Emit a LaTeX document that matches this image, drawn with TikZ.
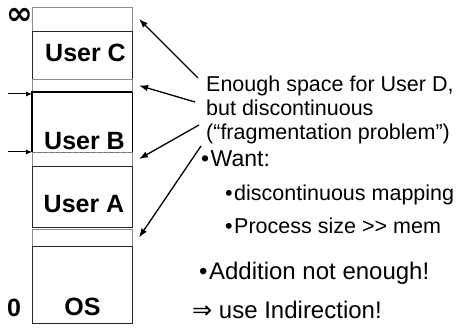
\documentclass[tikz,border=0pt]{standalone}
\usepackage{fontspec}
\setmainfont{Liberation Sans}
\newfontfamily\symfont{DejaVu Sans}
\usetikzlibrary{arrows.meta,positioning}
\newcommand{\dotitem}{\textbullet\kern1.5pt}
\tikzset{
  slot/.style={
    draw=black!45,
    line width=0.8pt,
    minimum width=100pt,
    inner sep=0pt,
    outer sep=0pt
  },
  proc/.style={
    draw=black!85,
    line width=0.9pt,
    minimum width=100pt,
    inner sep=0pt,
    outer sep=0pt
  },
  tag/.style={font=\fontsize{25}{25}\selectfont\bfseries, inner sep=0pt},
  bigsym/.style={font=\fontsize{32}{32}\selectfont\symfont\bfseries, inner sep=0pt},
  note/.style={anchor=base west, inner sep=0pt, font=\fontsize{21.5}{24}\selectfont},
  pointer/.style={-{Latex[length=9pt,width=6.5pt]}, line width=1.3pt},
  baseptr/.style={-{Latex[length=6pt,width=5pt]}, line width=1pt}
}

\begin{document}
\begin{tikzpicture}[x=1pt, y=-1pt, node distance=0pt]
\useasboundingbox (0,0) rectangle (461,328);

% memory, from the top address down to 0
\node[slot, minimum height=24pt] (top) at (82,19) {};
\node[proc, minimum height=48pt, below=of top] (userC) {};
\node[slot, minimum height=13pt, below=of userC] (holeCB) {};
\node[proc, draw=none, minimum height=60pt, below=of holeCB] (userB) {};
\node[slot, minimum height=14pt, below=of userB] (holeBA) {};
\node[proc, minimum height=61pt, below=of holeBA] (userA) {};
\node[slot, minimum height=17pt, below=2pt of userA] (holeAO) {};
\node[proc, minimum height=77pt, below=of holeAO] (os) {};

% User B: base and bound
\draw[line width=1.6pt] (userB.south west) -- (userB.north west) -- (userB.north east);
\draw[line width=0.9pt] (userB.north east) -- (userB.south east);
\draw[black!55, line width=0.8pt, dashed] (userB.south west) -- (userB.south east);

\node[tag] (labC) at ([xshift=3.5pt,yshift=2pt]userC.center) {User C};
\node[tag] (labB) at ([xshift=2.5pt,yshift=-19pt]userB.center) {User B};
\node[tag] (labA) at ([xshift=2pt,yshift=-7.5pt]userA.center) {User A};
\node[tag] (labOS) at ([xshift=0.5pt,yshift=-22.5pt]os.center) {OS};

\node[bigsym] (infty) at (20,16) {∞};
\node[tag] (zero) at (14,308) {0};

\coordinate (ptrTop) at (8,94);
\coordinate (ptrBot) at (8,152);
\draw[baseptr] (ptrTop) -- (ptrTop -| userB.west);
\draw[baseptr] (ptrBot) -- (ptrBot -| userB.west);

% the holes
\node[note] (n1) at (206,92) {Enough space for User D,};
\node[note] (n2) at (206,116) {but discontinuous};
\node[note] (n3) at (206,140) {(“fragmentation problem”)};

\coordinate (s1) at (198,78);
\coordinate (s2) at (195,102);
\coordinate (s3) at (199,125);
\coordinate (s4) at (201,146);
\draw[pointer] (s1) -- ([xshift=7pt]top.east);
\draw[pointer] (s2) -- ([xshift=7pt]holeCB.east);
\draw[pointer] (s3) -- ([xshift=7pt]holeBA.east);
\draw[pointer] (s4) -- ([xshift=7pt]holeAO.east);

\node[note, font=\fontsize{23}{26}\selectfont] (want) at (201,167) {\dotitem Want:};
\node[note, font=\fontsize{21.5}{24}\selectfont] (want1) at (225,201) {\dotitem discontinuous mapping};
\node[note, font=\fontsize{21.5}{24}\selectfont] (want2) at (225,234) {\dotitem Process size >{}> mem};
\node[note, font=\fontsize{24}{26}\selectfont] (add) at (199,280) {\dotitem Addition not enough!};
\node[note, font=\fontsize{24}{26}\selectfont] (indir) at (192,319) {{\symfont ⇒} use Indirection!};
\end{tikzpicture}
\end{document}
